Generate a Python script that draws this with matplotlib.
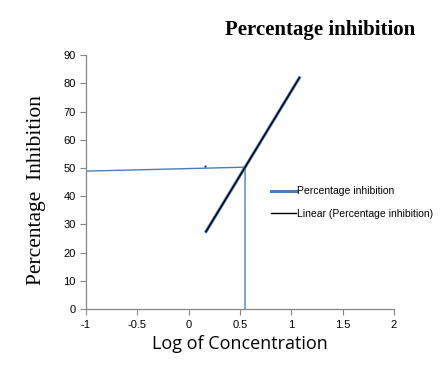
import matplotlib.pyplot as plt
import numpy as np

# data
log_conc = [0.17, 1.08]
inhibition = [27.5, 82.0]
ic50_x = [-1.0, 0.55, 0.55]
ic50_y = [48.9, 50.3, 0.0]
dot_x = [0.16]
dot_y = [50.8]

x_ticks = [-1, -0.5, 0, 0.5, 1, 1.5, 2]
x_tick_labels = ["-1", "-0.5", "0", "0.5", "1", "1.5", "2"]
y_ticks = [0, 10, 20, 30, 40, 50, 60, 70, 80, 90]

fig = plt.figure(figsize=(4.41, 3.65), dpi=100)
ax = fig.add_axes([0.195, 0.153, 0.698, 0.696])

# guide lines to the 50% point
ax.plot(ic50_x, ic50_y, color="#4a7ebb", lw=1.0)
ax.plot(dot_x, dot_y, marker=".", color="#2020d0", ms=1.2, ls="none")

# series and its trend line
ax.plot(log_conc, inhibition, color="#4a7ebb", lw=2.2, label="Percentage inhibition")
ax.plot(log_conc, inhibition, color="black", lw=1.0, label="Linear (Percentage inhibition)")

ax.set_xlim(-1, 2)
ax.set_ylim(0, 90)
ax.set_xticks(x_ticks)
ax.set_xticklabels(x_tick_labels)
ax.set_yticks(y_ticks)
ax.tick_params(labelsize=8, length=4, color="#868686", width=0.8)
for lbl in ax.get_xticklabels() + ax.get_yticklabels():
    lbl.set_family("Liberation Sans")

for side in ["top", "right"]:
    ax.spines[side].set_visible(False)
for side in ["left", "bottom"]:
    ax.spines[side].set_color("#868686")
    ax.spines[side].set_linewidth(0.9)

ax.set_xlabel("Log of Concentration", fontsize=13, family="Open Sans", labelpad=4)
ax.set_ylabel("Percentage  Inhibition", fontsize=15.5, family="Liberation Serif")
ax.yaxis.set_label_coords(-0.13, 0.47)

fig.text(0.725, 0.918, "Percentage inhibition", fontsize=15, fontweight="bold",
         family="Liberation Serif", ha="center", va="center")

ax.legend(loc="upper left", bbox_to_anchor=(0.57, 0.52), frameon=False,
          prop={"family": "Liberation Sans", "size": 7.5},
          handlelength=2.4, handletextpad=0.1, labelspacing=1.2)

fig.savefig("out.png", dpi=100)
